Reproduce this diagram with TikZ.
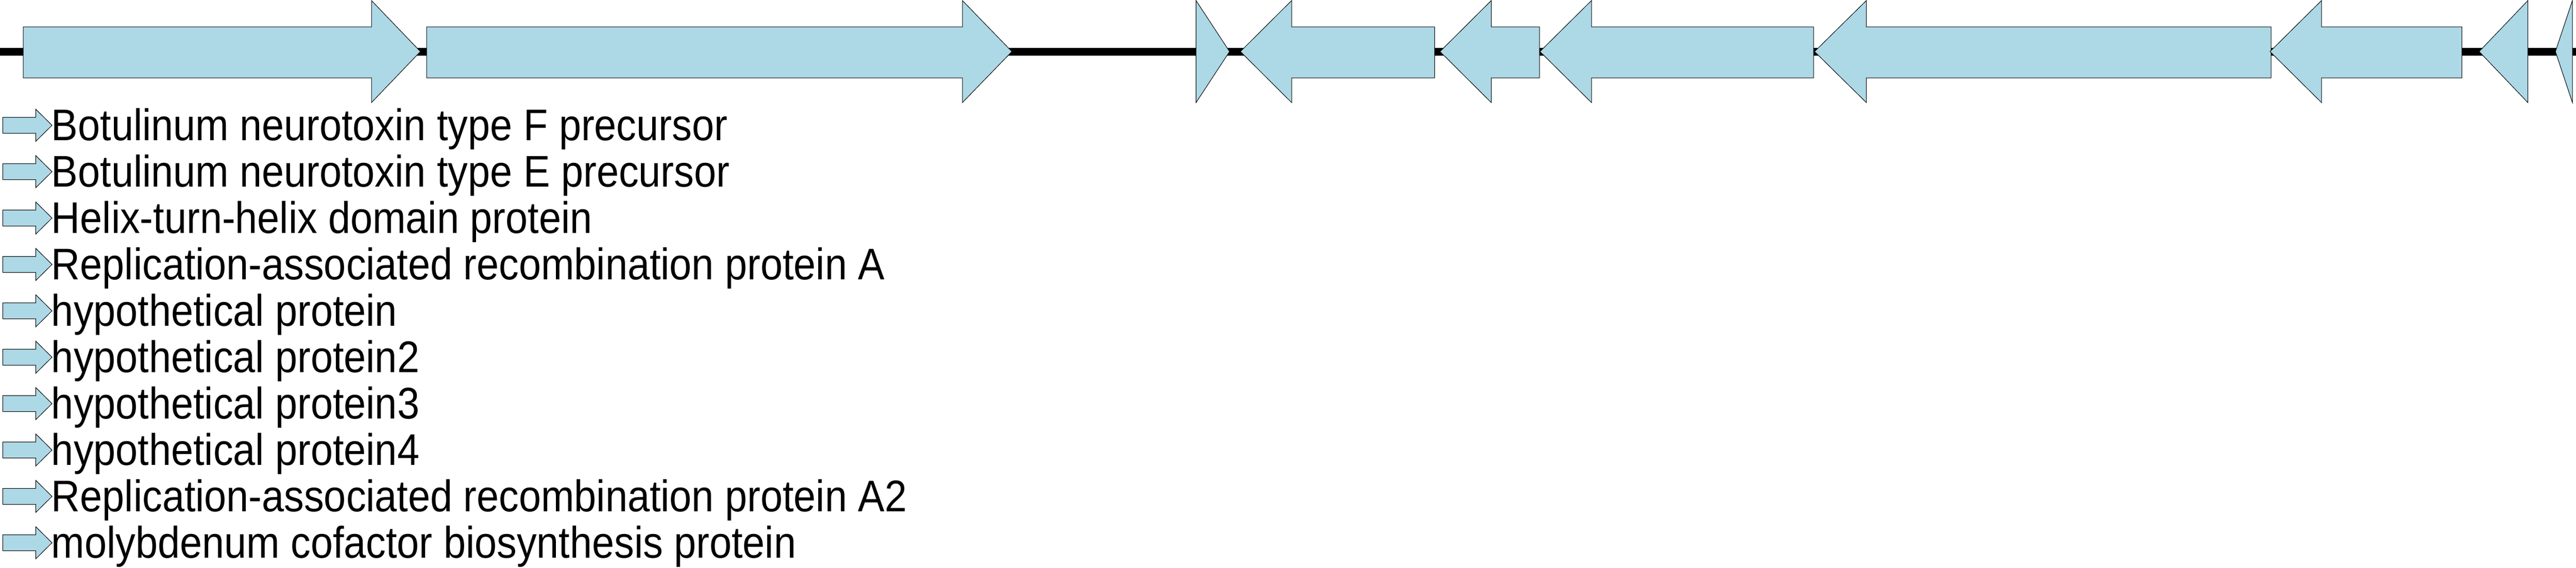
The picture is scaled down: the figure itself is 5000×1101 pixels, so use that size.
\documentclass[tikz,border=0pt]{standalone}
\usepackage{fontspec}
\newfontfamily\labfont[FakeStretch=0.9]{Liberation Sans}
\definecolor{genefill}{RGB}{173,216,230}
\tikzset{
  gene/.style={draw=black, fill=genefill, line width=0.1pt, line join=miter},
  backbone/.style={draw=black, line width=1.5pt},
  legtext/.style={anchor=base west, inner sep=0pt, outer sep=0pt, font=\labfont\fontsize{8.6pt}{10pt}\selectfont}
}
\newcommand\genearrow[3]{% start, head base, tip
  \path[gene] (#1,52) -- (#2,52) -- (#2,1) -- (#3,100) -- (#2,199) -- (#2,151) -- (#1,151) -- cycle;}
\newcommand\genehead[2]{% head base, tip
  \path[gene] (#1,1) -- (#2,100) -- (#1,199) -- cycle;}
\newcommand\legarrow[1]{%
  \path[gene] (5.3,#1-15.5) -- (69.3,#1-15.5) -- (69.3,#1-31.3) -- (101,#1) -- (69.3,#1+31.3) -- (69.3,#1+15.5) -- (5.3,#1+15.5) -- cycle;}
\begin{document}
\begin{tikzpicture}[x=0.1pt,y=-0.1pt]
\useasboundingbox (0,0) rectangle (5000,1101);
\coordinate (lineL) at (0,100.5);
\coordinate (lineR) at (5000,100.5);
\draw[backbone] (lineL) -- (lineR);
% forward genes
\genearrow{45}{721}{816}
\genearrow{828}{1868}{1964}
\genehead{2321.5}{2386.5}
% reverse genes
\genearrow{2784.5}{2507}{2407.6}
\genearrow{2988}{2894.5}{2795}
\genearrow{3520}{3089}{2989}
\genearrow{4408}{3622.5}{3522}
\genearrow{4778.5}{4506}{4406}
\genehead{4906.5}{4812}
\genehead{4993}{4960}
% legend
\foreach \lab [count=\i] in {Botulinum neurotoxin type F precursor,
  Botulinum neurotoxin type E precursor,
  Helix-turn-helix domain protein,
  Replication-associated recombination protein A,
  hypothetical protein,
  hypothetical protein2,
  hypothetical protein3,
  hypothetical protein4,
  Replication-associated recombination protein A2,
  molybdenum cofactor biosynthesis protein}{
  \pgfmathsetmacro\cy{243+90*(\i-1)}
  \legarrow{\cy}
  \node[legtext] (leg\i) at (100,\cy+29) {\lab};
}
\end{tikzpicture}
\end{document}
